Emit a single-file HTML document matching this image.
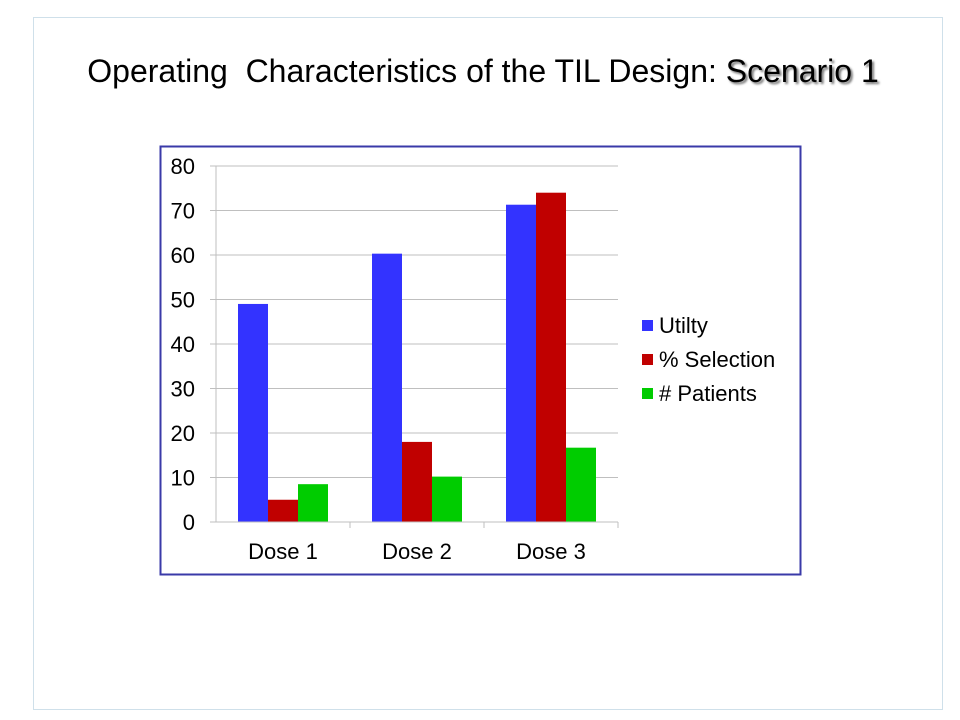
<!DOCTYPE html>
<html><head><meta charset="utf-8"><style>
body{margin:0;width:960px;height:720px;background:#fff;font-family:"Liberation Sans",sans-serif;overflow:hidden;position:relative}
#slide{position:absolute;left:33px;top:17px;width:910px;height:693px;border:1px solid #cfe0ea;box-sizing:border-box}
#title{position:absolute;left:0;top:53px;width:966px;text-align:center;font-size:32px;color:#000;white-space:pre}
#title b{font-weight:normal;text-shadow:2px 2px 2px #777}
</style></head><body>
<div id="slide"></div>
<div id="title">Operating  Characteristics of the TIL Design: <b>Scenario 1</b></div>
<svg id="chart" width="960" height="720" style="position:absolute;left:0;top:0">
<rect x="160.5" y="146.5" width="640" height="428" fill="#fff" stroke="#3a3aa8" stroke-width="2"/>
<g id="grid"></g><g id="bars"></g><g id="axes"></g><g id="legend"></g>
</svg>
<script>
const categories=["Dose 1","Dose 2","Dose 3"];
const utility=[49,60.3,71.3];
const selection=[5,18,74];
const patients=[8.5,10.2,16.7];
const seriesNames=["Utilty","% Selection","# Patients"];
const yTicks=[0,10,20,30,40,50,60,70,80];
const colors=["#3333ff","#c00000","#00cc00"];
const NS="http://www.w3.org/2000/svg";
const x0=216,x1=618,y0=522,yTop=166,yMax=80;
const y=v=>y0-(v/yMax)*(y0-yTop);
const gw=(x1-x0)/categories.length;
function mk(tag,attrs,parent,text){const e=document.createElementNS(NS,tag);for(const k in attrs)e.setAttribute(k,attrs[k]);if(text!==undefined)e.textContent=text;parent.appendChild(e);return e;}
const grid=document.getElementById('grid'),bars=document.getElementById('bars'),axes=document.getElementById('axes'),legend=document.getElementById('legend');
yTicks.forEach(t=>{
 const l=mk('line',{x1:210,x2:x1,y1:y(t),y2:y(t),stroke:'#bfbfbf','stroke-width':1},grid);
 
 
 const tx=mk('text',{x:195,y:y(t)+8,'font-size':22,'text-anchor':'end',fill:'#000'},axes,String(t));
 
 
});
const ax=mk('line',{x1:x0,x2:x0,y1:yTop,y2:y0,stroke:'#bfbfbf'},axes);


const series=[utility,selection,patients];
categories.forEach((c,i)=>{
 const gx=x0+gw*i;
 const tk=mk('line',{x1:gx+gw,x2:gx+gw,y1:y0,y2:y0+6,stroke:'#bfbfbf'},axes);
 
 
 series.forEach((s,j)=>{
  const r=mk('rect',{x:gx+22+30*j,y:y(s[i]),width:30,height:y0-y(s[i]),fill:colors[j]},bars);
  
  
 });
 const t=mk('text',{x:gx+gw/2,y:559,'font-size':22,'text-anchor':'middle',fill:'#000'},axes,c);
 
 
});
const xl=mk('line',{x1:x0,x2:x1,y1:y0,y2:y0,stroke:'#bfbfbf'},axes);


seriesNames.forEach((n,j)=>{
 const ly=325+j*34;
 const g=mk('g',{},legend);
 
 
 mk('rect',{x:642,y:ly-5,width:11,height:11,fill:colors[j]},g);
 mk('text',{x:659,y:ly+8,'font-size':22,fill:'#000'},g,n);
});
</script>
</body></html>
